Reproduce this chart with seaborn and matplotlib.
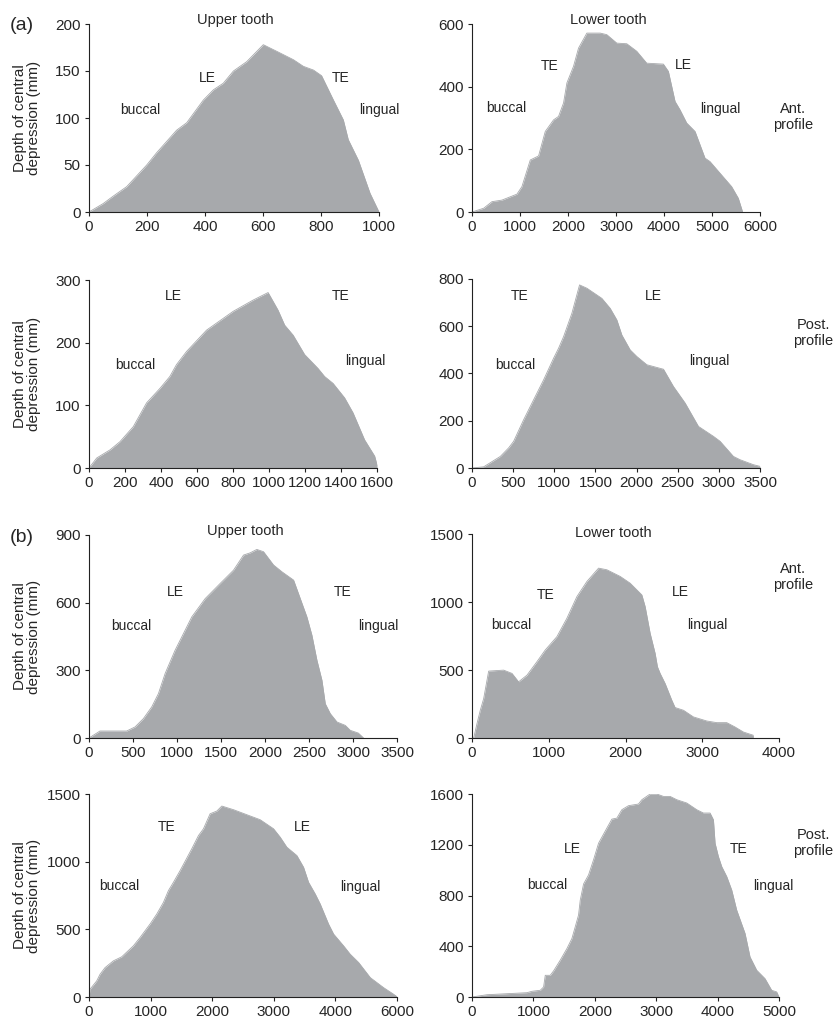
import numpy as np
import matplotlib
matplotlib.use("Agg")
import matplotlib.pyplot as plt
import seaborn as sns

sns.set_style("ticks")
plt.rcParams['font.family'] = ['Liberation Sans', 'DejaVu Sans']

FILL = "#a7a9ac"

# (a) anterior profile, upper tooth
a_ant_up_x = [0, 49, 84, 130, 199, 233, 302, 337, 394, 429, 463, 498, 544, 601, 647, 705,
              739, 774, 802, 843, 877, 894, 929, 969, 1000]
a_ant_up_y = [0, 9, 17, 27, 50, 63, 87, 95, 119, 130, 137, 150, 160, 178, 171, 162,
              155, 151, 145, 119, 98, 77, 55, 20, 0]

# (a) anterior profile, lower tooth
a_ant_lo_x = [0, 243, 416, 624, 936, 1040, 1214, 1387, 1526, 1699, 1803, 1907, 1977, 2115,
              2219, 2393, 2670, 2808, 3016, 3224, 3432, 3640, 3987, 4091, 4230, 4334, 4473,
              4647, 4854, 4958, 5166, 5409, 5548, 5638]
a_ant_lo_y = [0, 12, 33, 38, 57, 81, 166, 179, 257, 294, 305, 348, 412, 465,
              523, 571, 571, 566, 539, 537, 513, 475, 472, 449, 353, 326, 284,
              257, 172, 161, 124, 81, 44, 0]

# (a) posterior profile, upper tooth
a_post_up_x = [0, 43, 117, 172, 246, 320, 394, 449, 486, 542, 653, 801, 912, 995, 1050,
               1087, 1134, 1198, 1272, 1309, 1356, 1420, 1467, 1531, 1587, 1600]
a_post_up_y = [0, 16, 29, 42, 66, 104, 127, 146, 165, 186, 220, 250, 268, 280, 252,
               228, 212, 181, 159, 146, 135, 112, 88, 45, 19, 5]

# (a) posterior profile, lower tooth
a_post_lo_x = [0, 142, 344, 445, 506, 627, 749, 870, 992, 1052, 1113, 1214, 1307, 1396,
               1578, 1679, 1760, 1821, 1922, 2003, 2125, 2327, 2448, 2590, 2752, 2934,
               3015, 3177, 3258, 3420, 3500]
a_post_lo_y = [0, 5, 49, 85, 113, 204, 289, 373, 465, 507, 556, 655, 775, 761,
               718, 676, 627, 563, 500, 472, 437, 418, 345, 275, 176, 134,
               113, 49, 35, 14, 7]

# (b) anterior profile, upper tooth
b_ant_up_x = [0, 125, 428, 523, 618, 713, 789, 865, 978, 1054, 1168, 1320, 1490, 1642,
              1756, 1832, 1907, 1983, 2097, 2192, 2325, 2400, 2476, 2533, 2590, 2647,
              2685, 2742, 2818, 2912, 2969, 3060, 3120]
b_ant_up_y = [0, 31, 31, 49, 86, 138, 197, 286, 389, 448, 537, 618, 685, 744,
              811, 821, 836, 826, 767, 737, 700, 619, 537, 456, 345, 256,
              152, 108, 71, 56, 34, 22, 0]

# (b) anterior profile, lower tooth
b_ant_lo_x = [0, 22, 65, 108, 152, 217, 412, 521, 607, 716, 846, 954, 1106, 1236, 1367,
              1497, 1649, 1757, 1931, 2061, 2213, 2256, 2321, 2386, 2416, 2451, 2516,
              2603, 2646, 2755, 2885, 3059, 3189, 3319, 3427, 3536, 3666]
b_ant_lo_y = [0, 0, 106, 204, 290, 492, 499, 475, 413, 462, 561, 647, 745, 880, 1040,
              1151, 1249, 1237, 1188, 1138, 1052, 966, 770, 622, 524, 475, 401,
              278, 224, 204, 155, 125, 113, 113, 81, 44, 20]

# (b) posterior profile, upper tooth
b_post_up_x = [0, 16, 125, 179, 260, 395, 531, 720, 829, 991, 1100, 1208, 1289, 1371,
               1479, 1668, 1777, 1858, 1966, 2075, 2156, 2346, 2562, 2779, 2996, 3104,
               3212, 3375, 3483, 3564, 3673, 3754, 3889, 3971, 4133, 4241, 4377, 4567,
               4783, 4946, 5000]
b_post_up_y = [0, 57, 119, 168, 217, 267, 297, 378, 440, 539, 613, 699, 786, 848,
               934, 1095, 1193, 1243, 1354, 1374, 1411, 1384, 1347, 1310, 1243, 1181,
               1107, 1045, 959, 848, 761, 687, 539, 465, 378, 316, 255, 143,
               69, 20, 2]
# tick labels as printed in the source figure
b_post_up_xticklabels = ["0", "1000", "2000", "3000", "4000", "6000"]

# (b) posterior profile, lower tooth
b_post_lo_x = [0, 244, 569, 895, 976, 1112, 1166, 1193, 1274, 1329, 1437, 1546, 1627,
               1681, 1735, 1763, 1817, 1898, 1979, 2061, 2196, 2278, 2359, 2440, 2549,
               2711, 2766, 2901, 3010, 3118, 3227, 3335, 3498, 3661, 3769, 3877, 3932,
               3959, 4013, 4067, 4149, 4230, 4311, 4447, 4528, 4637, 4772, 4881, 4962,
               5000]
b_post_lo_y = [0, 18, 26, 34, 45, 53, 79, 171, 171, 206, 290, 382, 461,
               553, 646, 764, 891, 962, 1081, 1212, 1331, 1402, 1410, 1476, 1508,
               1521, 1555, 1600, 1600, 1581, 1581, 1555, 1529, 1476, 1450, 1450, 1397,
               1212, 1107, 1028, 949, 843, 685, 501, 316, 211, 145, 53, 40,
               0]

# side labels (text, x, y) in data units
a_ant_up_lbl = [("buccal", 176, 109), ("LE", 408, 143), ("TE", 868, 143), ("lingual", 1000, 109)]
a_ant_lo_lbl = [("buccal", 714, 332), ("TE", 1609, 465), ("LE", 4404, 470), ("lingual", 5166, 328)]
a_post_up_lbl = [("buccal", 255, 165), ("LE", 468, 275), ("TE", 1397, 275), ("lingual", 1535, 170)]
a_post_lo_lbl = [("buccal", 526, 437), ("TE", 579, 728), ("LE", 2206, 728), ("lingual", 2885, 451)]
b_ant_up_lbl = [("buccal", 478, 496), ("LE", 978, 648), ("TE", 2886, 648), ("lingual", 3291, 496)]
b_ant_lo_lbl = [("buccal", 508, 831), ("TE", 954, 1052), ("LE", 2711, 1070), ("lingual", 3067, 831)]
b_post_up_lbl = [("buccal", 488, 823), ("TE", 1262, 1255), ("LE", 3456, 1255), ("lingual", 4404, 815)]
b_post_lo_lbl = [("buccal", 1220, 883), ("LE", 1627, 1165), ("TE", 4349, 1165), ("lingual", 4908, 875)]

fig = plt.figure(figsize=(8.37, 10.22), dpi=100)


def panel(rect, x, y, xmax, xstep, ymax, ystep, labels, ylabel=False, xticklabels=None):
    ax = fig.add_axes(rect)
    ax.fill_between(x, y, 0, color=FILL, linewidth=0)
    sns.lineplot(x=x, y=y, ax=ax, color=FILL, linewidth=0.6, sort=False)
    ax.set_xlim(0, xmax)
    ax.set_ylim(0, ymax)
    ax.set_xticks(np.arange(0, xmax + 1, xstep))
    if xticklabels is not None:
        ax.set_xticklabels(xticklabels)
    ax.set_yticks(np.arange(0, ymax + 1, ystep))
    sns.despine(ax=ax)
    for s in ["left", "bottom"]:
        ax.spines[s].set_linewidth(0.8)
        ax.spines[s].set_color("#222222")
    ax.tick_params(labelsize=11, length=3, width=0.8, color="#222222", pad=3)
    for t, tx, ty in labels:
        ax.text(tx, ty, t, ha="center", va="center", fontsize=10, clip_on=False)
    if ylabel:
        ax.set_ylabel("Depth of central\ndepression (mm)", fontsize=11, linespacing=1.05)
    return ax


W = 837
H = 1022


def rect(l, r, t, b):
    return [l / W, 1 - b / H, (r - l) / W, (b - t) / H]


ax1 = panel(rect(89, 379, 24, 212), a_ant_up_x, a_ant_up_y, 1000, 200, 200, 50, a_ant_up_lbl, ylabel=True)
ax1.yaxis.set_label_coords(-0.165, 0.5)
ax2 = panel(rect(472, 760, 24, 212), a_ant_lo_x, a_ant_lo_y, 6000, 1000, 600, 200, a_ant_lo_lbl)
ax3 = panel(rect(89, 377, 280, 468), a_post_up_x, a_post_up_y, 1600, 200, 300, 100, a_post_up_lbl, ylabel=True)
ax3.yaxis.set_label_coords(-0.165, 0.5)
ax4 = panel(rect(472, 760, 279, 468), a_post_lo_x, a_post_lo_y, 3500, 500, 800, 200, a_post_lo_lbl)
ax5 = panel(rect(89, 397, 535, 738), b_ant_up_x, b_ant_up_y, 3500, 500, 900, 300, b_ant_up_lbl, ylabel=True)
ax5.yaxis.set_label_coords(-0.155, 0.5)
ax6 = panel(rect(472, 779, 534, 738), b_ant_lo_x, b_ant_lo_y, 4000, 1000, 1500, 500, b_ant_lo_lbl)
ax7 = panel(rect(89, 397, 794, 997), b_post_up_x, b_post_up_y, 5000, 1000, 1500, 500, b_post_up_lbl,
            ylabel=True, xticklabels=b_post_up_xticklabels)
ax7.yaxis.set_label_coords(-0.155, 0.5)
ax8 = panel(rect(472, 779, 794, 997), b_post_lo_x, b_post_lo_y, 5000, 1000, 1600, 400, b_post_lo_lbl)

# headers and side notes
fig.text(22 / W, 1 - 25 / H, "(a)", fontsize=14, ha="center", va="center")
fig.text(22 / W, 1 - 537 / H, "(b)", fontsize=14, ha="center", va="center")
fig.text(235 / W, 1 - 20 / H, "Upper tooth", fontsize=10.5, ha="center", va="center")
fig.text(608 / W, 1 - 20 / H, "Lower tooth", fontsize=10.5, ha="center", va="center")
fig.text(245 / W, 1 - 531 / H, "Upper tooth", fontsize=10.5, ha="center", va="center")
fig.text(613 / W, 1 - 533 / H, "Lower tooth", fontsize=10.5, ha="center", va="center")
fig.text(793 / W, 1 - 117 / H, "Ant.\nprofile", fontsize=10.5, ha="center", va="center", multialignment="center")
fig.text(813 / W, 1 - 333 / H, "Post.\nprofile", fontsize=10.5, ha="center", va="center", multialignment="center")
fig.text(793 / W, 1 - 577 / H, "Ant.\nprofile", fontsize=10.5, ha="center", va="center", multialignment="center")
fig.text(813 / W, 1 - 843 / H, "Post.\nprofile", fontsize=10.5, ha="center", va="center", multialignment="center")

fig.savefig("out.png", dpi=100)
